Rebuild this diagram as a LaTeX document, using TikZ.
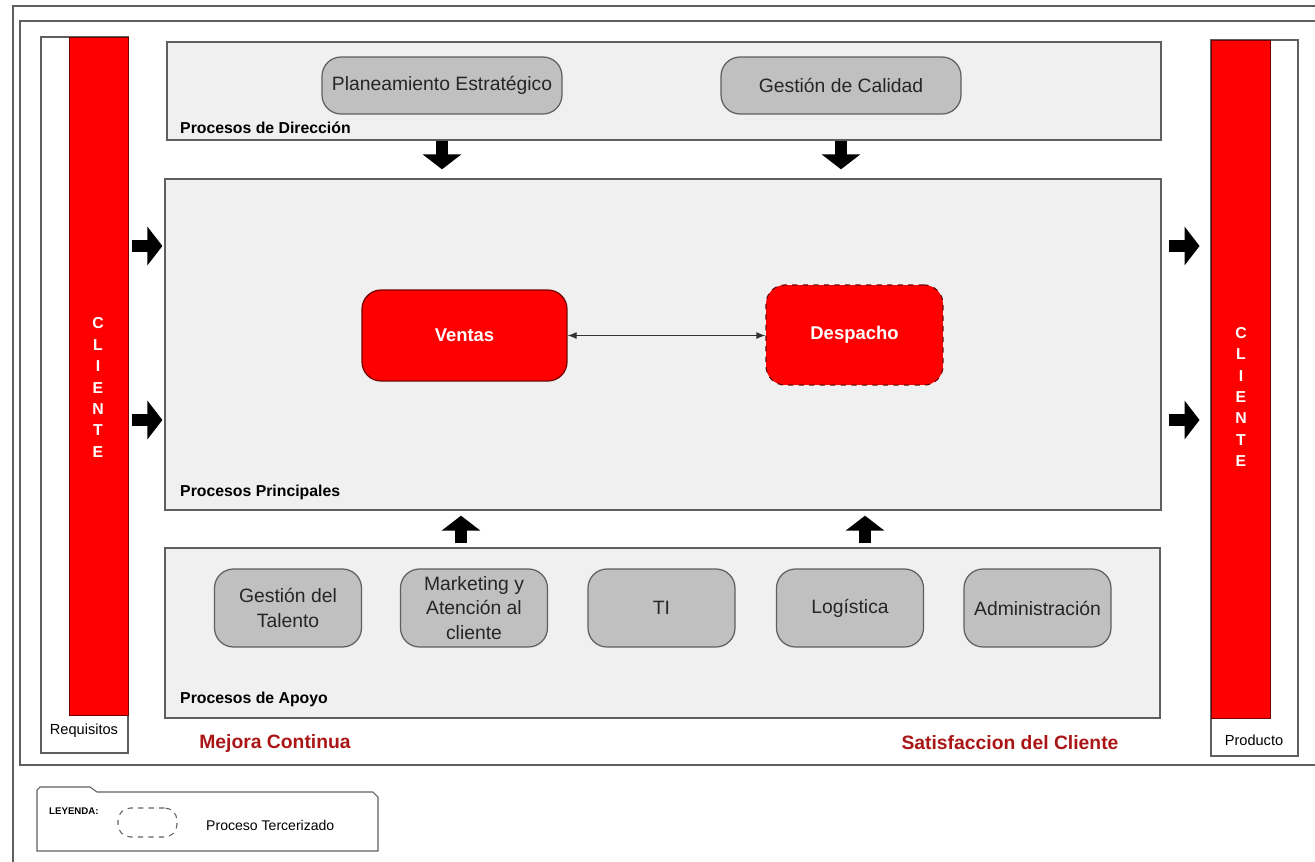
\documentclass[tikz,border=0pt]{standalone}
\usepackage{fontspec}
\setmainfont{Liberation Sans}
\usetikzlibrary{arrows.meta}

\definecolor{areagray}{RGB}{240,240,240}
\definecolor{procgray}{RGB}{192,192,192}
\definecolor{linegray}{RGB}{95,95,95}
\definecolor{mejorared}{RGB}{170,22,22}

\begin{document}
\begin{tikzpicture}
[x=0.02cm,y=-0.02cm,
frame/.style={draw=linegray,line width=0.8pt},
area/.style={rectangle,draw=linegray,fill=areagray,line width=0.8pt},
areatxt/.style={anchor=west,font=\bfseries\fontsize{9}{10}\selectfont},
proc/.style={rectangle,rounded corners=0.38cm,draw=linegray,fill=procgray,line width=0.7pt,align=center,
  text=black!85,font=\fontsize{11}{14}\selectfont},
redproc/.style={proc,fill=red,draw=red!45!black,text=white,font=\bfseries\fontsize{10.5}{12}\selectfont,
  minimum height=1.82cm},
clibox/.style={rectangle,draw=linegray,fill=white,line width=0.7pt,minimum width=1.74cm,minimum height=14.32cm},
clibar/.style={rectangle,draw=red!45!black,fill=red,line width=0.5pt,minimum width=1.18cm,minimum height=13.56cm},
clitxt/.style={text=white,align=center,font=\bfseries\fontsize{9}{12.2}\selectfont},
bigarrow/.style={draw=black,line width=0.24cm,-{Triangle[width=0.76cm,length=0.3cm]}},
]
\useasboundingbox (0,0) rectangle (1315,862);

% marcos
\draw[frame] (1315,6) -| (13,862);
\draw[frame] (1315,21) -| (20,765) -- (1315,765);

% cliente izquierda / derecha
\node [clibox] (req) at (84.5,395) {};
\node [clibar] (cliL) at (98.5,376) {};
\node [clitxt] at (98,387.5) {C\\L\\I\\E\\N\\T\\E};
\node [font=\fontsize{8.3}{10}\selectfont] (reqtxt) at (84,731) {Requisitos};
\node [clibox] (prod) at (1254.5,398) {};
\node [clibar] (cliR) at (1240.5,379) {};
\node [clitxt] at (1241,397) {C\\L\\I\\E\\N\\T\\E};
\node [font=\fontsize{8.3}{10}\selectfont] (prodtxt) at (1254,740) {Producto};

% areas
\node [area,minimum width=19.88cm,minimum height=1.96cm] (dir) at (664,91) {};
\node [area,minimum width=19.92cm,minimum height=6.62cm] (prin) at (663,344.5) {};
\node [area,minimum width=19.9cm,minimum height=3.4cm] (apo) at (662.5,633) {};
\node [areatxt] at (174,128) {Procesos de Dirección};
\node [areatxt] at (174,492) {Procesos Principales};
\node [areatxt] at (174,699) {Procesos de Apoyo};

% procesos de direccion
\node [proc,minimum width=4.8cm,minimum height=1.14cm] (plan) at (442,85.5) {Planeamiento Estratégico};
\node [proc,minimum width=4.8cm,minimum height=1.14cm] (cal) at (841,85.5) {Gestión de Calidad};

% procesos principales
\node [redproc,minimum width=4.1cm] (ven) at (464.5,335.5) {Ventas};
\node [redproc,dashed,minimum width=3.54cm,minimum height=2cm] (des) at (854.5,335) {Despacho};
\draw[{Latex[length=0.18cm,width=0.14cm]}-{Latex[length=0.18cm,width=0.14cm]},draw=black!80,line width=0.6pt] (ven.east) -- (ven.east -| des.west);

% procesos de apoyo
\node [proc,minimum width=2.94cm,minimum height=1.56cm] (tal) at (288,608) {Gestión del\\Talento};
\node [proc,minimum width=2.94cm,minimum height=1.56cm] (mkt) at (474,608) {Marketing y\\Atención al\\cliente};
\node [proc,minimum width=2.94cm,minimum height=1.56cm] (ti) at (661.5,608) {TI};
\node [proc,minimum width=2.94cm,minimum height=1.56cm] (log) at (850,608) {Logística};
\node [proc,minimum width=2.94cm,minimum height=1.56cm] (adm) at (1037.5,608) {Administración};

% flechas
\coordinate (upA) at (461,0);
\coordinate (upB) at (865,0);
\coordinate (inA) at (0,246);
\coordinate (inB) at (0,420);
\draw[bigarrow,shorten >=0.18cm] (dir.south -| plan) -- (prin.north -| plan);
\draw[bigarrow,shorten >=0.18cm] (dir.south -| cal) -- (prin.north -| cal);
\draw[bigarrow,shorten >=0.1cm,shorten <=0.08cm] (apo.north -| upA) -- (prin.south -| upA);
\draw[bigarrow,shorten >=0.1cm,shorten <=0.08cm] (apo.north -| upB) -- (prin.south -| upB);
\draw[bigarrow,shorten <=0.08cm,shorten >=0.04cm] (cliL.east |- inA) -- (prin.west |- inA);
\draw[bigarrow,shorten <=0.08cm,shorten >=0.04cm] (cliL.east |- inB) -- (prin.west |- inB);
\draw[bigarrow,shorten <=0.14cm,shorten >=0.22cm] (prin.east |- inA) -- (cliR.west |- inA);
\draw[bigarrow,shorten <=0.14cm,shorten >=0.22cm] (prin.east |- inB) -- (cliR.west |- inB);

% textos inferiores
\node [text=mejorared,font=\bfseries\fontsize{11}{13}\selectfont] (mej) at (275,743) {Mejora Continua};
\node [text=mejorared,font=\bfseries\fontsize{11}{13}\selectfont] (sat) at (1010,743) {Satisfaccion del Cliente};

% leyenda
\draw[frame,line width=0.6pt] (37,797) -- (37,790) -- (40,787) -- (90,787) -- (97,792) -- (373,792)
  -- (378,797) -- (378,851) -- (37,851) -- cycle;
\node [anchor=west,font=\bfseries\fontsize{5.5}{6}\selectfont] (ley) at (43,811) {LEYENDA:};
\node [rectangle,rounded corners=0.25cm,draw=linegray,dashed,line width=0.6pt,minimum width=1.18cm,minimum height=0.58cm] (terc) at (147.5,822.5) {};
\node [anchor=west,font=\fontsize{8}{10}\selectfont] (tercn) at (200,825) {Proceso Tercerizado};
\end{tikzpicture}
\end{document}
